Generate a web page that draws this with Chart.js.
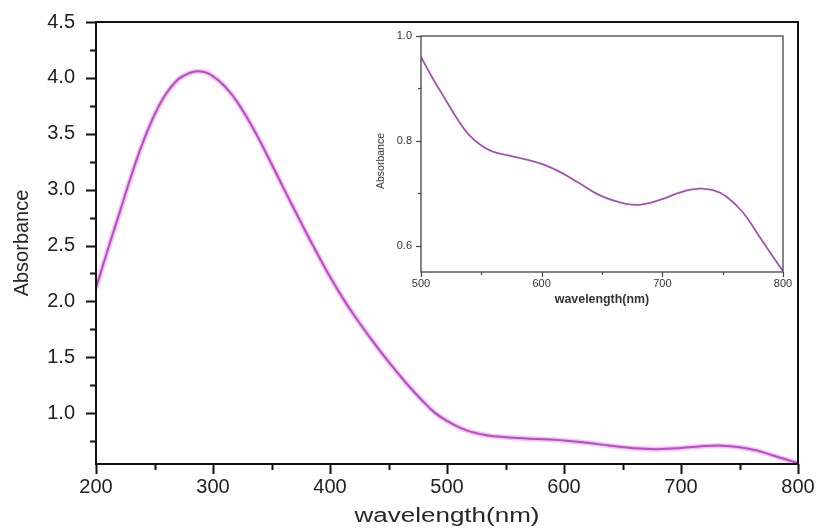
<!DOCTYPE html>
<html>
<head>
<meta charset="utf-8">
<script src="https://cdn.jsdelivr.net/npm/chart.js@4.4.0/dist/chart.umd.min.js"></script>
<style>
  html, body { margin: 0; padding: 0; background: #fff; }
  #wrap { position: relative; width: 818px; height: 528px; background: #fff; }
  #main { position: absolute; left: 0; top: 0; }
  #inset { position: absolute; left: 360px; top: 20px; }
</style>
</head>
<body>
<div id="wrap">
  <canvas id="main" width="818" height="528"></canvas>
  <canvas id="inset" width="440" height="300"></canvas>
</div>
<script>
// ---- Main spectrum (200-800 nm) ----
const mainWavelength = [200,210,220,230,240,250,260,270,280,287,295,305,315,325,335,345,360,375,390,400,410,420,435,450,465,480,490,500,510,520,535,550,570,600,620,640,660,680,700,720,735,750,765,780,790,800];
const mainAbsorbance = [2.12,2.46,2.79,3.12,3.42,3.67,3.86,3.985,4.045,4.06,4.045,3.975,3.865,3.715,3.535,3.335,3.02,2.71,2.41,2.22,2.045,1.885,1.665,1.46,1.27,1.10,1.00,0.93,0.875,0.835,0.80,0.785,0.772,0.755,0.735,0.708,0.685,0.678,0.688,0.705,0.709,0.695,0.665,0.617,0.585,0.552];
const mainXTicks = [200,250,300,350,400,450,500,550,600,650,700,750,800];
const mainYTicks = [0.75,1.0,1.25,1.5,1.75,2.0,2.25,2.5,2.75,3.0,3.25,3.5,3.75,4.0,4.25,4.5];

// ---- Inset spectrum (500-800 nm) ----
const insetWavelength = [500,510,520,530,540,550,560,575,590,600,615,630,645,660,670,680,690,700,715,730,742,753,767,780,792,800];
const insetAbsorbance = [0.960,0.918,0.880,0.842,0.811,0.791,0.779,0.771,0.763,0.756,0.741,0.721,0.700,0.686,0.680,0.678,0.682,0.689,0.702,0.709,0.706,0.694,0.663,0.619,0.578,0.552];
const insetXTicks = [500,550,600,650,700,750,800];
const insetYTicks = [0.6,0.7,0.8,0.9,1.0];

const FONT = "'Liberation Sans', Arial, sans-serif";

function pts(xs, ys) { return xs.map((x, i) => ({ x: x, y: ys[i] })); }

function decorPlugin(cfg) {
  return {
    id: 'decor',
    beforeDraw(chart) {
      const sx = chart.scales.x, sy = chart.scales.y;
      if (cfg.xStretch && !sx._wrappedTitle) {
        const orig = sx.drawTitle;
        sx.drawTitle = function () {
          const c = this.ctx, cx = (this.left + this.right) / 2;
          c.save(); c.translate(cx, 0); c.scale(cfg.xStretch, 1); c.translate(-cx, 0);
          orig.call(this); c.restore();
        };
        sx._wrappedTitle = true;
      }
      if (cfg.yTitleShift && !sy._wrappedTitle) {
        const origY = sy.drawTitle;
        sy.drawTitle = function () {
          const c = this.ctx; c.save(); c.translate(0, cfg.yTitleShift); origY.call(this); c.restore();
        };
        sy._wrappedTitle = true;
      }
    },
    afterDraw(chart) {
      const ctx = chart.ctx, a = chart.chartArea;
      ctx.save();
      ctx.strokeStyle = cfg.color;
      ctx.lineWidth = cfg.tickWidth;
      const sx = chart.scales.x, sy = chart.scales.y;
      sx.ticks.forEach(t => {
        const len = cfg.xMajor(t.value) ? cfg.majorLen : cfg.minorLen;
        const p = Math.round(sx.getPixelForValue(t.value)) + 0.5;
        ctx.beginPath(); ctx.moveTo(p, a.bottom); ctx.lineTo(p, a.bottom + len); ctx.stroke();
      });
      sy.ticks.forEach(t => {
        const len = cfg.yMajor(t.value) ? cfg.majorLen : cfg.minorLen;
        const p = Math.round(sy.getPixelForValue(t.value)) + 0.5;
        ctx.beginPath(); ctx.moveTo(a.left, p); ctx.lineTo(a.left - len, p); ctx.stroke();
      });
      ctx.lineWidth = cfg.boxWidth;
      ctx.strokeRect(a.left, a.top, a.right - a.left, a.bottom - a.top);
      ctx.restore();
    }
  };
}

const isMult = (v, m) => Math.abs(v / m - Math.round(v / m)) < 1e-6;

// ---------- main chart ----------
new Chart(document.getElementById('main'), {
  type: 'line',
  data: {
    datasets: [
      { data: pts(mainWavelength, mainAbsorbance), borderColor: 'rgba(226,120,236,0.45)', borderWidth: 5, pointRadius: 0, tension: 0.4, fill: false },
      { data: pts(mainWavelength, mainAbsorbance), borderColor: '#952b9f', borderWidth: 2, pointRadius: 0, tension: 0.4, fill: false }
    ]
  },
  options: {
    responsive: false, animation: false, events: [],
    layout: { padding: { top: 20, right: 20, left: 0, bottom: 0 } },
    plugins: { legend: { display: false }, tooltip: { enabled: false } },
    scales: {
      x: {
        type: 'linear', min: 200, max: 800,
        afterBuildTicks: s => { s.ticks = mainXTicks.map(v => ({ value: v })); },
        afterFit: s => { s.height = 64; },
        grid: { display: false, drawTicks: true, tickLength: 10 },
        border: { display: false },
        ticks: { autoSkip: false, maxRotation: 0, padding: 1, color: '#222', font: { family: FONT, size: 20 },
          callback: v => isMult(v, 100) ? String(v) : '' },
        title: { display: true, text: 'wavelength(nm)', color: '#262626', font: { family: FONT, size: 20, lineHeight: 1.2 }, padding: { top: 0, bottom: 0 } }
      },
      y: {
        type: 'linear', min: 0.545, max: 4.5,
        afterBuildTicks: s => { s.ticks = mainYTicks.map(v => ({ value: v })); },
        afterFit: s => { s.width = 96; },
        grid: { display: false, drawTicks: true, tickLength: 11 },
        border: { display: false },
        ticks: { autoSkip: false, padding: 10, color: '#222', font: { family: FONT, size: 20 },
          callback: v => isMult(v, 0.5) ? v.toFixed(1) : '' },
        title: { display: true, text: 'Absorbance', color: '#262626', font: { family: FONT, size: 20, lineHeight: 1.2 }, padding: { top: 10, bottom: 0 } }
      }
    }
  },
  plugins: [decorPlugin({ color: '#111', tickWidth: 2, boxWidth: 2, majorLen: 10, minorLen: 6, xStretch: 1.3,
    xMajor: v => isMult(v, 100), yMajor: v => isMult(v, 0.5) })]
});

// ---------- inset chart ----------
new Chart(document.getElementById('inset'), {
  type: 'line',
  data: {
    datasets: [
      { data: pts(insetWavelength, insetAbsorbance), borderColor: '#a452b2', borderWidth: 1.8, pointRadius: 0, tension: 0.4, fill: false }
    ]
  },
  options: {
    responsive: false, animation: false, events: [],
    layout: { padding: { top: 16, right: 17, left: 0, bottom: 0 } },
    plugins: { legend: { display: false }, tooltip: { enabled: false } },
    scales: {
      x: {
        type: 'linear', min: 500, max: 800,
        afterBuildTicks: s => { s.ticks = insetXTicks.map(v => ({ value: v })); },
        afterFit: s => { s.height = 48; },
        grid: { display: false, drawTicks: true, tickLength: 5 },
        border: { display: false },
        ticks: { autoSkip: false, maxRotation: 0, padding: 0, color: '#333', font: { family: FONT, size: 11 },
          callback: v => isMult(v, 100) ? String(v) : '' },
        title: { display: true, text: 'wavelength(nm)', color: '#333', font: { family: FONT, size: 12.4, weight: 'bold', lineHeight: 1.2 }, padding: { top: 0, bottom: 12.5 } }
      },
      y: {
        type: 'linear', min: 0.55, max: 1.0,
        afterBuildTicks: s => { s.ticks = insetYTicks.map(v => ({ value: v })); },
        afterFit: s => { s.width = 61; },
        grid: { display: false, drawTicks: true, tickLength: 5 },
        border: { display: false },
        ticks: { autoSkip: false, padding: 4, color: '#333', font: { family: FONT, size: 11 },
          callback: v => isMult(v, 0.2) ? v.toFixed(1) : '' },
        title: { display: true, text: 'Absorbance', color: '#333', font: { family: FONT, size: 10.5, lineHeight: 1.2 }, padding: { top: 15, bottom: 0 } }
      }
    }
  },
  plugins: [decorPlugin({ color: '#444', tickWidth: 1.2, boxWidth: 1.3, majorLen: 5, minorLen: 3, yTitleShift: 7,
    xMajor: v => isMult(v, 100), yMajor: v => isMult(v, 0.2) })]
});
</script>
</body>
</html>
